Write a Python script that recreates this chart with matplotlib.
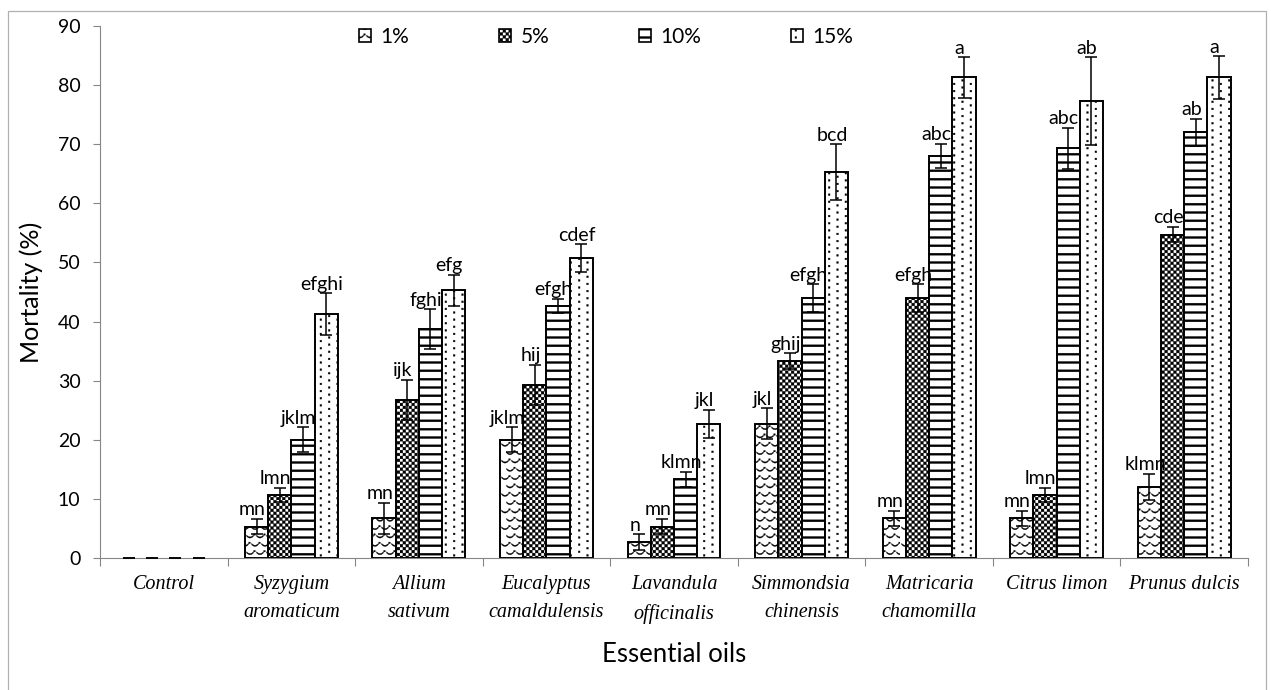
import numpy as np
import matplotlib
matplotlib.use("Agg")
import matplotlib.pyplot as plt
import matplotlib.hatch as mhatch
from matplotlib.path import Path
from matplotlib.patches import Rectangle, Patch

# ---------------- data ----------------
categories = ["Control", "Syzygium\naromaticum", "Allium\nsativum", "Eucalyptus\ncamaldulensis",
              "Lavandula\nofficinalis", "Simmondsia\nchinensis", "Matricaria\nchamomilla",
              "Citrus limon", "Prunus dulcis"]
series_names = ["1%", "5%", "10%", "15%"]
v1 = [0, 5.3, 6.7, 20.0, 2.7, 22.7, 6.7, 6.7, 12.0]
v5 = [0, 10.7, 26.7, 29.3, 5.3, 33.3, 44.0, 10.7, 54.7]
v10 = [0, 20.0, 38.7, 42.7, 13.3, 44.0, 68.0, 69.3, 72.0]
v15 = [0, 41.3, 45.3, 50.7, 22.7, 65.3, 81.3, 77.3, 81.3]
e1 = [0, 1.3, 2.6, 2.1, 1.3, 2.6, 1.3, 1.3, 2.2]
e5 = [0, 1.2, 3.4, 3.4, 1.3, 1.3, 2.3, 1.2, 1.3]
e10 = [0, 2.1, 3.4, 1.2, 1.3, 2.3, 2.1, 3.5, 2.3]
e15 = [0, 3.5, 2.6, 2.4, 2.4, 4.7, 3.4, 7.4, 3.6]
l1 = ["", "mn", "mn", "jklm", "n", "jkl", "mn", "mn", "klmn"]
l5 = ["", "lmn", "ijk", "hij", "mn", "ghij", "efgh", "lmn", "cde"]
l10 = ["", "jklm", "fghi", "efgh", "klmn", "efgh", "abc", "abc", "ab"]
l15 = ["", "efghi", "efg", "cdef", "jkl", "bcd", "a", "ab", "a"]
yticks = [0, 10, 20, 30, 40, 50, 60, 70, 80, 90]

values = [v1, v5, v10, v15]
errors = [e1, e5, e10, e15]
letters = [l1, l5, l10, l15]

# ---------------- custom hatch patterns (filled shapes in unit tile) ----------------
class _Shapes(mhatch.HatchPatternBase):
    char = None

    def __init__(self, hatch, density):
        self.polys = self.make() if (hatch and self.char in hatch) else []
        self.num_vertices = sum(len(p) for p in self.polys)

    def make(self):
        return []

    def set_vertices_and_codes(self, vertices, codes):
        k = 0
        for p in self.polys:
            n = len(p)
            vertices[k:k + n] = p
            codes[k] = Path.MOVETO
            codes[k + 1:k + n - 1] = Path.LINETO
            codes[k + n - 1] = Path.CLOSEPOLY
            k += n


def _rect(x0, y0, w, h):
    return np.array([(x0, y0), (x0 + w, y0), (x0 + w, y0 + h), (x0, y0 + h), (x0, y0)])


class HLines(_Shapes):
    char = '-'

    def make(self):
        n = 12
        return [_rect(0, (i + 0.5) / n - 0.01, 1.0, 0.02) for i in range(n)]


class Dots(_Shapes):
    char = '.'

    def make(self):
        cols, rows, s = 12, 14, 0.017
        out = []
        for j in range(cols):
            for i in range(rows):
                x = (j + 0.5) / cols
                y = (i + 0.25 + 0.5 * (j % 2)) / rows
                out.append(_rect(x - s / 2, y - s / 2, s, s))
        return out


class Checker(_Shapes):
    char = 'O'

    def make(self):
        n = 34
        s = 1.0 / n
        out = []
        for i in range(n):
            for j in range(n):
                if (i + j) % 2 == 0:
                    out.append(_rect(i * s, j * s, s * 0.95, s * 0.95))
        return out


class Wave(_Shapes):
    char = 'o'

    def make(self):
        cols, rows = 10, 12
        out = []
        hw = 0.034
        t = np.linspace(-1, 1, 9)
        for i in range(rows):
            for j in range(cols):
                cx = (j + 0.5 + 0.5 * (i % 2)) / cols
                cy = (i + 0.5) / rows
                xs = cx + t * hw
                ys = cy + 0.018 * (t ** 2)
                top = np.column_stack([xs, ys + 0.006])
                bot = np.column_stack([xs[::-1], ys[::-1] - 0.006])
                poly = np.vstack([top, bot, top[:1]])
                out.append(poly)
                s = 0.015
                out.append(_rect(cx + 0.045 - s / 2, cy + 0.03 - s / 2, s, s))
        return out


mhatch._hatch_types = [HLines, Dots, Checker, Wave]

plt.rcParams['hatch.linewidth'] = 0.25
plt.rcParams['hatch.color'] = 'black'

hatches = ['o', 'O', '-', '.']

# ---------------- figure ----------------
W, H = 1271, 690
fig = plt.figure(figsize=(W / 100, H / 100), dpi=100)
x_left, x_right, y_top, y_bot = 100, 1248, 26, 558
ax = fig.add_axes([x_left / W, (H - y_bot) / H, (x_right - x_left) / W, (y_bot - y_top) / H])

n_cat = len(categories)
x = np.arange(n_cat) + 0.5
bw = 0.182
offsets = (np.arange(4) - 1.5) * bw

tick_font = "Lato"
handles = []
for k in range(4):
    xs = x + offsets[k]
    edge = ['none' if v == 0 else 'black' for v in values[k]]
    ax.bar(xs, values[k], width=bw, color='white', edgecolor=edge, linewidth=1.4,
           hatch=hatches[k], zorder=2)
    handles.append(Patch(facecolor='white', edgecolor='black', linewidth=1.2,
                         hatch=hatches[k], label=series_names[k]))
    ax.errorbar(xs, values[k], yerr=errors[k], fmt='none', ecolor='black',
                elinewidth=1.1, capsize=4.5, capthick=1.1, zorder=3)
    for xi, v, e, lab in zip(xs, values[k], errors[k], letters[k]):
        if lab:
            ax.text(xi - 0.035, v + e + 0.1, lab, ha='center', va='bottom',
                    fontsize=14, family=tick_font, zorder=4)

ax.set_xlim(0, n_cat)
ax.set_ylim(0, 90)
ax.set_yticks(yticks)
ax.set_yticklabels([str(t) for t in yticks], family=tick_font, fontsize=14)
ax.set_xticks(np.arange(n_cat + 1))
ax.set_xticklabels([])
ax.set_xticks(x, minor=True)
ax.set_xticklabels(categories, minor=True, family='Liberation Serif', style='italic',
                   fontsize=14.5, linespacing=1.7)
ax.tick_params(axis='x', which='major', length=6, color='#868686', width=0.8)
ax.tick_params(axis='x', which='minor', length=0, pad=12)
ax.tick_params(axis='y', length=5, color='#868686', width=0.8, pad=9)
for s in ['top', 'right']:
    ax.spines[s].set_visible(False)
for s in ['left', 'bottom']:
    ax.spines[s].set_color('#868686')
    ax.spines[s].set_linewidth(0.8)

ax.set_ylabel("Mortality (%)", family=tick_font, fontsize=18, labelpad=11)
ax.set_xlabel("Essential oils", family=tick_font, fontsize=18.5, labelpad=13)

leg = ax.legend(handles=handles, loc='upper center', bbox_to_anchor=(606 / W, (H - 8) / H),
                bbox_transform=fig.transFigure, ncol=4, frameon=False,
                handlelength=0.58, handleheight=0.58, handletextpad=0.45,
                columnspacing=4.3, prop={'family': tick_font, 'size': 15})

fig.add_artist(Rectangle((8 / W, -0.02), (1266 - 8) / W, (H - 11) / H + 0.02,
                         transform=fig.transFigure, fill=False, edgecolor='#b0b0b0',
                         linewidth=0.9))

fig.savefig("out.png", dpi=100)
